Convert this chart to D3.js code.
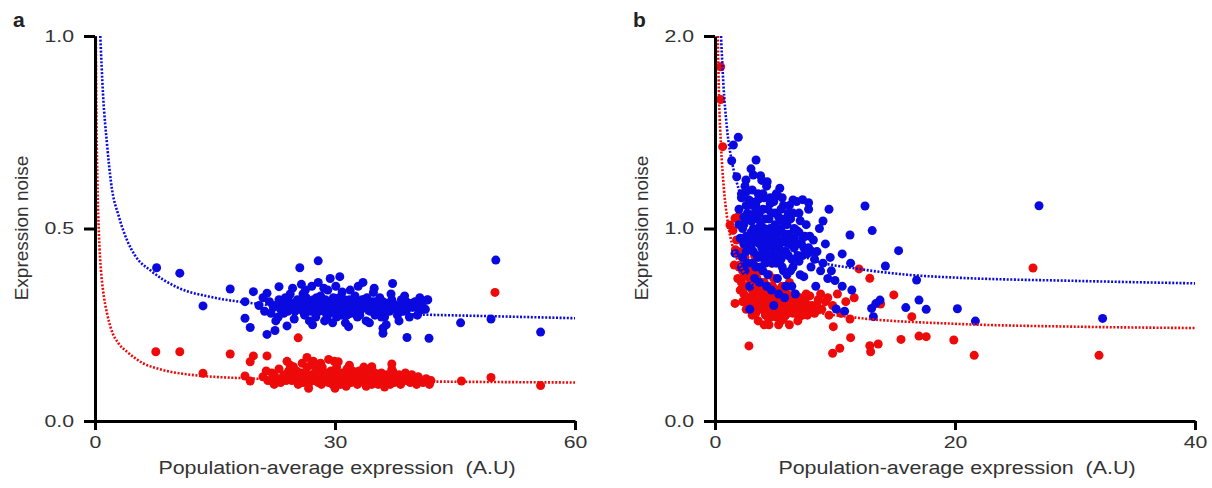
<!DOCTYPE html>
<html>
<head>
<meta charset="utf-8">
<script src="https://cdn.jsdelivr.net/npm/d3@7"></script>
<style>
  body { margin: 0; background: #fff; }
  svg text { font-family: "Liberation Sans", Arial, sans-serif; white-space: pre; }
  .axis path, .axis line { stroke: #000; stroke-width: 3; }
  .axis text { font-size: 17px; fill: #333; }
</style>
</head>
<body>
<div id="chart"></div>
<script>
// tick labels
var xTicksA = [0, 30, 60];
var yTicksA = [0, 0.5, 1.0];
var xTicksB = [0, 20, 40];
var yTicksB = [0, 1.0, 2.0];

// panel a, blue cells [mean, noise]
var blueA = [
  [7.7,0.398],[10.6,0.384],[13.5,0.299],[16.9,0.343],[50.1,0.418],[45.7,0.255],[49.5,0.265],[55.7,0.231],
  [27.9,0.416],[25.6,0.398],[30.6,0.375],[33.5,0.36],[37.2,0.357],[34.8,0.334],[18.75,0.31],[18.75,0.267],
  [19.4,0.243],[21.5,0.225],[22.5,0.235],[24,0.247],[39,0.217],[41.75,0.215],[36,0.241],[36,0.228],
  [23,0.349],[19.8,0.336],[21.5,0.332],[41.5,0.314],
  [20.5,0.30],[21.2,0.285],[21.8,0.31],[22.3,0.295],[22.9,0.27],[23.4,0.305],[23.8,0.32],[24.1,0.285],
  [24.6,0.30],[24.9,0.265],[25.3,0.315],[25.7,0.29],[26.0,0.33],[26.2,0.275],[26.6,0.305],[26.9,0.29],
  [27.1,0.35],[27.3,0.315],[27.6,0.27],[27.8,0.30],[28.0,0.285],[28.2,0.325],[28.5,0.31],[28.7,0.26],
  [28.9,0.295],[29.1,0.34],[29.3,0.28],[29.5,0.305],[29.8,0.32],[30.0,0.29],[30.2,0.27],[30.4,0.31],
  [30.7,0.30],[30.9,0.335],[31.1,0.285],[31.3,0.255],[31.6,0.30],[31.8,0.315],[32.0,0.28],[32.3,0.295],
  [32.5,0.325],[32.8,0.27],[33.0,0.305],[33.3,0.29],[33.6,0.315],[33.9,0.26],[34.1,0.30],[34.4,0.285],
  [34.7,0.31],[35.0,0.275],[35.3,0.30],[35.6,0.32],[35.9,0.29],[36.2,0.27],[36.5,0.305],[36.8,0.285],
  [37.1,0.315],[37.4,0.295],[37.8,0.275],[38.1,0.30],[38.5,0.285],[38.9,0.31],[39.3,0.27],[39.7,0.295],
  [40.1,0.30],[40.5,0.285],[40.9,0.305],[41.3,0.29],[41.6,0.315],
  [21.0,0.32],[22.0,0.28],[23.0,0.315],[24.0,0.30],[24.4,0.33],[25.0,0.285],[25.5,0.30],[26.4,0.32],
  [27.0,0.285],[27.5,0.31],[28.3,0.295],[28.8,0.315],[29.6,0.29],[29.9,0.31],[30.6,0.285],[31.0,0.30],
  [31.5,0.275],[32.2,0.31],[32.7,0.29],[33.5,0.30],[34.0,0.32],[34.6,0.295],[35.2,0.285],[36.0,0.31],
  [36.7,0.30],[37.6,0.29],[38.3,0.315],[39.0,0.29],[39.5,0.305],[40.3,0.275],[23.6,0.28],[26.8,0.26],
  [29.0,0.27],[30.8,0.275],[33.1,0.275],[35.8,0.27],[26.3,0.34],[28.6,0.345],[31.9,0.34],[30.1,0.35],
  [27.9,0.36],[25.8,0.355],[29.4,0.37],[24.7,0.345],[32.9,0.35],[34.9,0.345],[37.0,0.33],[38.7,0.325],
  [40.6,0.32],[22.6,0.26],[27.2,0.25],[31.7,0.245],[34.3,0.255],[36.4,0.25],[38.0,0.26],[29.7,0.255],
  [22.5,0.30],[23.2,0.29],[24.3,0.31],[25.1,0.30],[25.9,0.31],[26.5,0.295],[27.4,0.295],[28.1,0.305],
  [28.9,0.28],[29.6,0.31],[30.3,0.295],[31.2,0.315],[31.9,0.295],[32.6,0.305],[33.4,0.315],[34.2,0.29],
  [35.1,0.31],[35.7,0.295],[36.4,0.29],[37.3,0.305],[38.2,0.29],[39.1,0.30],[40.0,0.31],[40.8,0.29],
  [26.0,0.285],[29.2,0.30],[32.1,0.30],[30.5,0.32],[27.7,0.32],[34.8,0.30]
];

// panel a, red cells
var redA = [
  [7.6,0.18],[10.6,0.18],[16.9,0.174],[13.5,0.124],[19.8,0.169],[19.4,0.154],[21.5,0.169],[25.4,0.216],
  [50,0.334],[49.5,0.113],[45.8,0.104],[55.7,0.092],[18.75,0.117],[19.4,0.104],[26.5,0.165],[29.2,0.16],
  [30.4,0.154],[34.6,0.141],[37.1,0.148],[37.1,0.134],[24.8,0.141],
  [21.0,0.115],[21.6,0.105],[22.1,0.125],[22.7,0.11],[23.2,0.10],[23.7,0.12],[24.2,0.13],[24.6,0.105],
  [25.0,0.115],[25.4,0.095],[25.8,0.125],[26.1,0.11],[26.5,0.14],[26.8,0.10],[27.1,0.12],[27.4,0.105],
  [27.7,0.135],[28.0,0.115],[28.3,0.095],[28.6,0.125],[28.9,0.11],[29.2,0.10],[29.5,0.13],[29.8,0.115],
  [30.1,0.105],[30.4,0.125],[30.7,0.095],[31.0,0.11],[31.3,0.12],[31.6,0.10],[31.9,0.115],[32.2,0.13],
  [32.5,0.105],[32.8,0.095],[33.1,0.115],[33.4,0.125],[33.7,0.10],[34.0,0.11],[34.3,0.12],[34.6,0.095],
  [34.9,0.105],[35.2,0.115],[35.5,0.10],[35.8,0.125],[36.1,0.11],[36.4,0.095],[36.7,0.105],[37.0,0.115],
  [37.4,0.10],[37.8,0.11],[38.2,0.095],[38.6,0.105],[39.0,0.115],[39.4,0.10],[39.8,0.11],[40.2,0.095],
  [40.6,0.105],[41.0,0.10],[41.4,0.11],[41.8,0.095],[42.0,0.105],
  [21.4,0.13],[22.4,0.095],[23.0,0.135],[23.9,0.105],[24.4,0.145],[25.2,0.13],[25.6,0.11],[26.3,0.125],
  [27.0,0.145],[27.9,0.10],[28.4,0.14],[29.0,0.125],[29.7,0.095],[30.2,0.14],[30.9,0.125],[31.5,0.135],
  [32.0,0.10],[32.7,0.12],[33.3,0.105],[34.2,0.135],[35.0,0.125],[35.7,0.11],[36.5,0.12],[37.2,0.13],
  [38.0,0.12],[38.8,0.125],[39.6,0.12],[40.4,0.115],[22.0,0.105],[24.8,0.12],[26.6,0.115],[28.7,0.105],
  [30.5,0.11],[33.0,0.13],[35.4,0.095],[23.5,0.115],[26.0,0.10],[27.5,0.125],[29.3,0.115],[31.2,0.105],
  [32.4,0.115],[34.5,0.115],[36.9,0.095],[38.4,0.11],[24.0,0.155],[25.9,0.15],[27.3,0.155],[28.2,0.15],
  [29.9,0.155],[31.8,0.145],[33.6,0.14],[26.7,0.085],[30.0,0.085],[33.9,0.09],[36.2,0.088],[31.4,0.09],
  [22.5,0.115],[23.4,0.105],[24.5,0.11],[25.3,0.105],[26.2,0.115],[27.2,0.11],[28.1,0.105],[28.8,0.115],
  [29.6,0.105],[30.3,0.115],[31.1,0.115],[31.8,0.105],[32.6,0.11],[33.5,0.11],[34.4,0.105],[35.3,0.105],
  [36.3,0.105],[37.5,0.105],[38.9,0.105],[40.0,0.105],[27.8,0.125],[30.6,0.12],[25.5,0.12],[33.2,0.12],
  [36.0,0.115]
];

// panel b, blue cells
var blueB = [
  [27,1.118],[32.3,0.533],[12.5,1.117],[13.1,0.989],[15.3,0.885],[14.2,0.805],[16.8,0.732],[17,0.628],
  [15.9,0.589],[17.6,0.58],[20.2,0.583],[21.7,0.519],[13.75,0.628],[13.4,0.61],[13.05,0.585],[13.2,0.542],
  [10.1,0.582],[10.8,0.57],[11.25,0.966],[9.0,1.039],[10.6,0.868],[11.3,0.82],[9.7,0.78],[10,0.73],
  [10.6,0.70],[11.4,0.68],[2.9,0.58],[1.67,0.871],
  [1.94,1.474],[1.53,1.434],[1.39,1.352],[1.81,1.269],[3.42,1.356],[3.0,1.31],[3.19,1.278],[3.8,1.274],
  [4.35,1.243],[2.58,1.252],[5.4,1.209],[5.2,1.17],[6.5,1.148],[7.3,1.15],[7.8,1.134],[9.5,1.10],
  [2.2,1.16],[2.6,1.19],[3.1,1.12],[3.6,1.18],[4.1,1.16],[4.6,1.13],[2.4,1.06],[2.0,1.02],
  [2.0,1.10],[2.1,0.95],[2.2,1.18],[2.3,0.85],[2.4,1.02],[2.5,0.78],[2.6,1.12],[2.7,0.92],
  [2.8,1.05],[2.9,0.70],[3.0,0.98],[3.1,1.20],[3.2,0.88],[3.3,1.08],[3.4,0.80],[3.5,0.95],
  [3.6,1.15],[3.7,0.72],[3.8,1.02],[3.9,0.90],[4.0,1.10],[4.1,0.84],[4.2,0.97],[4.3,1.22],
  [4.4,0.76],[4.5,1.05],[4.6,0.92],[4.7,0.68],[4.8,1.00],[4.9,1.14],[5.0,0.86],[5.1,0.95],
  [5.2,0.74],[5.3,1.06],[5.4,0.89],[5.5,1.00],[5.6,0.80],[5.7,1.12],[5.8,0.93],[5.9,0.70],
  [6.0,1.02],[6.1,0.86],[6.2,0.97],[6.3,0.78],[6.5,1.08],[6.6,0.90],[6.7,0.66],[6.8,0.99],
  [7.0,0.83],[7.1,1.04],[7.2,0.92],[7.4,0.75],[7.5,0.96],[7.7,0.87],[7.8,1.10],[8.0,0.80],
  [8.2,0.94],[8.4,0.70],[8.5,0.88],[8.7,1.00],[9.0,0.82],[9.2,0.92],[9.4,0.74],[9.6,0.85],
  [2.3,1.00],[2.5,1.22],[2.7,0.82],[3.0,0.90],[3.2,1.00],[3.4,1.12],[3.6,0.85],[3.8,0.95],
  [4.0,0.78],[4.2,1.05],[4.4,0.90],[4.6,1.00],[4.8,0.82],[5.0,1.02],[5.2,0.92],[5.4,0.98],
  [5.6,0.88],[5.8,1.05],[6.0,0.76],[6.2,0.92],[6.4,0.84],[6.6,1.00],[6.9,0.92],[7.3,0.86],
  [7.6,1.02],[8.1,0.88],[8.8,0.78],[3.3,0.74],[4.3,0.70],[5.3,0.66],[6.4,0.70],[2.8,1.15],
  [3.5,1.05],[4.7,1.08],[5.5,1.10],[6.8,1.14],[7.9,0.96],[3.9,1.25],[5.1,1.18],[4.5,0.96],
  [3.7,0.92],[2.6,0.88],[5.7,0.94],[6.3,1.05],[7.0,0.98],[3.1,0.82],[4.1,1.00],[4.9,0.60],[5.8,0.64],
  [2.4,0.92],[2.9,0.96],[3.3,0.93],[3.7,1.08],[4.0,0.88],[4.3,0.93],[4.6,1.16],[5.0,0.94],
  [5.3,0.98],[5.6,1.04],[5.9,0.88],[6.2,1.12],[6.6,0.95],[7.0,1.08],[7.4,0.90],[2.7,1.08],
  [3.0,1.04],[3.5,0.86],[3.8,0.80],[4.4,1.10],[4.8,0.90],[5.1,0.82],[5.5,0.84],[5.9,0.97],
  [6.4,0.92],[6.9,0.86],[7.3,0.95],[7.8,0.90],[8.3,0.84],[3.2,0.94],[3.9,0.98],[4.5,0.86],
  [5.0,1.08],[5.7,0.78],[6.1,1.08],[2.2,0.80],[2.6,0.96],[3.4,0.98],[4.2,0.82],[4.9,0.96],
  [6.5,0.80],[7.1,0.76],[3.6,1.00],[4.7,0.94],[5.4,0.92],[6.0,0.94],[3.0,1.14],[4.0,1.18],[5.6,1.16]
];

// panel b, red cells
var redB = [
  [0.47,1.84],[0.47,1.67],[0.64,1.425],[1.25,1.018],[1.67,1.053],[1.5,0.99],[1.8,0.94],[1.7,0.89],
  [1.6,0.81],[1.67,0.611],[1.94,1.061],[2.83,0.39],[9.8,0.352],[10.4,0.378],[11.3,0.433],[12.9,0.391],
  [12.97,0.36],[13.6,0.40],[15.5,0.424],[17.0,0.441],[17.6,0.438],[19.9,0.421],[21.6,0.341],[32.0,0.341],
  [26.5,0.795],[12.0,0.79],[12.9,0.741],[14.9,0.655],[16.4,0.542],[13.8,0.608],[9.86,0.49],[11.25,0.53],
  [10.5,0.56],[10.9,0.62],[11.6,0.64],[10.2,0.66],
  [2.0,0.80],[2.1,0.68],[2.2,0.88],[2.3,0.62],[2.4,0.75],[2.5,0.85],[2.6,0.58],[2.7,0.70],
  [2.8,0.78],[2.9,0.64],[3.0,0.72],[3.1,0.55],[3.2,0.82],[3.3,0.66],[3.4,0.60],[3.5,0.74],
  [3.6,0.52],[3.7,0.68],[3.8,0.78],[3.9,0.58],[4.0,0.65],[4.1,0.72],[4.2,0.55],[4.3,0.62],
  [4.4,0.70],[4.5,0.50],[4.6,0.60],[4.7,0.66],[4.8,0.57],[4.9,0.74],[5.0,0.62],[5.1,0.54],
  [5.2,0.68],[5.3,0.59],[5.4,0.64],[5.5,0.52],[5.6,0.70],[5.7,0.57],[5.8,0.62],[5.9,0.55],
  [6.0,0.66],[6.1,0.58],[6.2,0.50],[6.3,0.62],[6.5,0.56],[6.6,0.66],[6.8,0.60],[7.0,0.54],
  [7.1,0.64],[7.3,0.58],[7.5,0.62],[7.7,0.55],[7.9,0.65],[8.1,0.60],[8.3,0.56],[8.6,0.63],
  [8.9,0.58],[9.2,0.62],[9.5,0.55],[9.8,0.60],
  [2.2,0.72],[2.4,0.66],[2.6,0.80],[2.8,0.60],[3.0,0.64],[3.2,0.70],[3.4,0.56],[3.6,0.62],
  [3.8,0.66],[4.0,0.58],[4.2,0.68],[4.4,0.60],[4.6,0.54],[4.8,0.64],[5.0,0.58],[5.2,0.62],
  [5.4,0.56],[5.6,0.60],[5.8,0.68],[6.0,0.60],[6.4,0.64],[6.7,0.58],[7.2,0.60],[7.6,0.66],
  [8.0,0.57],[8.5,0.60],[3.1,0.76],[3.9,0.72],[4.5,0.76],[2.5,0.92],[1.9,0.74],[5.3,0.50],
  [6.9,0.52],[4.1,0.50],[3.3,0.86],[2.9,0.90],[4.7,0.82],[6.2,0.72],[8.8,0.66],[9.4,0.64],
  [2.5,0.70],[2.9,0.74],[3.3,0.62],[3.5,0.68],[3.8,0.60],[4.2,0.64],[4.5,0.66],[4.8,0.70],
  [5.0,0.66],[5.3,0.64],[5.6,0.58],[5.9,0.60],[6.3,0.57],[6.6,0.62],[6.9,0.64],[7.3,0.55],
  [7.8,0.60],[2.3,0.78],[2.7,0.64],[3.1,0.68],[3.6,0.72],[4.0,0.70],[4.3,0.57],[4.7,0.60],
  [5.1,0.60],[5.5,0.62],[5.9,0.66],[6.2,0.60],[6.8,0.56],[7.4,0.60],[3.0,0.58],[3.5,0.58],
  [4.4,0.54],[5.7,0.53],[2.1,0.86],[2.4,0.83],[2.7,0.76],[3.4,0.78]
];

// fitted noise curves
var fitBlueA = [[0.66,1.0],[1,0.85],[1.5,0.72],[2,0.62],[3,0.53],[4,0.47],[5,0.43],[7,0.39],[10,0.35],
  [15,0.32],[20,0.305],[30,0.285],[40,0.277],[50,0.272],[60,0.267]];
var fitRedA = [[0.1,1.0],[0.2,0.75],[0.3,0.62],[0.5,0.48],[0.75,0.39],[1,0.34],[1.5,0.28],[2,0.24],
  [3,0.2],[4,0.18],[6,0.15],[8,0.135],[12,0.12],[20,0.11],[30,0.105],[45,0.102],[60,0.1]];
var fitBlueB = [[0.5,2.0],[0.7,1.75],[1,1.52],[1.5,1.32],[2,1.2],[3,1.06],[4,0.98],[6,0.9],[8,0.84],
  [12,0.79],[16,0.76],[20,0.745],[30,0.728],[40,0.715]];
var fitRedB = [[0.23,2.0],[0.35,1.65],[0.5,1.43],[0.75,1.2],[1,1.06],[1.5,0.9],[2,0.82],[3,0.72],
  [4,0.67],[6,0.6],[8,0.57],[12,0.535],[20,0.505],[30,0.49],[40,0.483]];

var BLUE = '#0a0ae0', RED = '#ee0a0a';

var svg = d3.select('#chart').append('svg')
    .attr('width', 1212).attr('height', 488);

// the source figure's lettering is a bit wide, stretch text horizontally
function widen(sel, k) {
    sel.each(function() {
        var w = this.getComputedTextLength();
        d3.select(this).attr('textLength', w * k).attr('lengthAdjust', 'spacingAndGlyphs');
    });
}

function panel(opt) {
    var x = d3.scaleLinear().domain(opt.xDomain).range([opt.left, opt.left + 480]);
    var y = d3.scaleLinear().domain(opt.yDomain).range([421, 36]);
    var g = svg.append('g');

    g.append('g').selectAll('circle').data(opt.red).enter().append('circle')
        .attr('cx', function(d) { return x(d[0]); })
        .attr('cy', function(d) { return y(d[1]); })
        .attr('r', 4.5).attr('fill', RED);
    g.append('g').selectAll('circle').data(opt.blue).enter().append('circle')
        .attr('cx', function(d) { return x(d[0]); })
        .attr('cy', function(d) { return y(d[1]); })
        .attr('r', 4.5).attr('fill', BLUE);

    var line = d3.line()
        .x(function(d) { return x(d[0]); })
        .y(function(d) { return y(d[1]); })
        .curve(d3.curveMonotoneX);
    g.append('path').datum(opt.fitRed).attr('d', line)
        .attr('fill', 'none').attr('stroke', RED)
        .attr('stroke-width', 2.6).attr('stroke-dasharray', '2,1.6');
    g.append('path').datum(opt.fitBlue).attr('d', line)
        .attr('fill', 'none').attr('stroke', BLUE)
        .attr('stroke-width', 2.6).attr('stroke-dasharray', '2,1.6');

    var xa = g.append('g').attr('class', 'axis')
        .attr('transform', 'translate(0,421)')
        .call(d3.axisBottom(x).tickValues(opt.xTicks).tickSize(9).tickSizeOuter(0)
            .tickPadding(6).tickFormat(d3.format('d')));
    var ya = g.append('g').attr('class', 'axis')
        .attr('transform', 'translate(' + opt.left + ',0)')
        .call(d3.axisLeft(y).tickValues(opt.yTicks).tickSize(11).tickSizeOuter(0)
            .tickPadding(10).tickFormat(d3.format('.1f')));
    widen(xa.selectAll('text'), 1.25);
    widen(ya.selectAll('text'), 1.25);

    var title = g.append('text')
        .attr('x', opt.left + 242).attr('y', 474)
        .attr('text-anchor', 'middle').attr('font-size', 18).attr('fill', '#333')
        .text('Population-average expression  (A.U)');
    widen(title, 1.19);
    g.append('text')
        .attr('transform', 'translate(' + (opt.left - 67) + ',228) rotate(-90)')
        .attr('text-anchor', 'middle').attr('font-size', 19).attr('fill', '#333')
        .text('Expression noise');
    g.append('text')
        .attr('x', opt.left - 82).attr('y', 27)
        .attr('font-size', 21).attr('font-weight', 'bold').attr('fill', '#222')
        .text(opt.letter);
}

panel({left: 95, xDomain: [0, 60], yDomain: [0, 1], xTicks: xTicksA, yTicks: yTicksA,
       blue: blueA, red: redA, fitBlue: fitBlueA, fitRed: fitRedA, letter: 'a'});
panel({left: 715, xDomain: [0, 40], yDomain: [0, 2], xTicks: xTicksB, yTicks: yTicksB,
       blue: blueB, red: redB, fitBlue: fitBlueB, fitRed: fitRedB, letter: 'b'});
</script>
</body>
</html>
